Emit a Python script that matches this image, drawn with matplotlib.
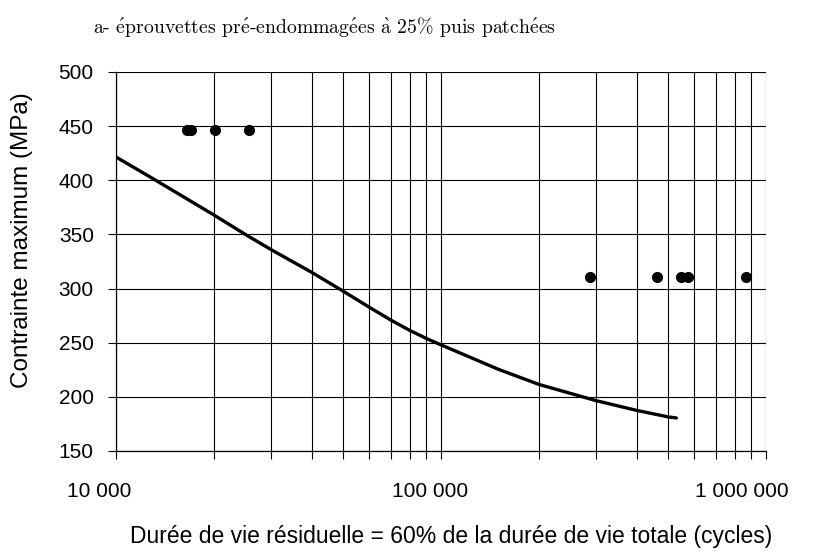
import matplotlib
matplotlib.use("Agg")
import matplotlib.pyplot as plt
from matplotlib.ticker import LogLocator, FixedLocator, NullFormatter
import matplotlib.transforms as mtrans

# ---- data ----
pts_high_x = [16580, 17050, 20210, 25720]
pts_high_y = [446, 446, 446, 446]
pts_low_x = [288000, 463000, 549000, 575000, 866000]
pts_low_y = [311, 311, 311, 311, 311]
curve_x = [10000, 13000, 20000, 25000, 30000, 40000, 50000, 60000, 70000,
           80000, 90000, 100000, 150000, 200000, 300000, 400000, 500000, 530000]
curve_y = [421.5, 401.5, 368, 350, 336, 315, 297.6, 283, 271,
           261.5, 254, 248, 225.5, 211.5, 196.5, 187.5, 181.5, 180.5]
y_ticks = [150, 200, 250, 300, 350, 400, 450, 500]
x_ticks = [10000, 100000, 1000000]
x_tick_labels = ["10 000", "100 000", "1 000 000"]

E = r"$\mathrm{\acute{e}}$"
A = r"$\mathrm{\grave{a}}$"
title = ("a- " + E + "prouvettes pr" + E + "-endommag" + E + "es " + A +
         " 25% puis patch" + E + "es")
xlabel = "Durée de vie résiduelle = 60% de la durée de vie totale (cycles)"
ylabel = "Contrainte maximum (MPa)"

plt.rcParams['font.family'] = ['Liberation Sans', 'DejaVu Sans']
plt.rcParams['mathtext.fontset'] = 'cm'

fig = plt.figure(figsize=(8.26, 5.59), dpi=100)
ax = fig.add_axes([116/826, 1-451/559, (766-116)/826, (451-72)/559])

ax.set_xscale('log')
ax.set_xlim(1e4, 1e6)
ax.set_ylim(150, 500)

ax.xaxis.set_major_locator(FixedLocator(x_ticks))
ax.xaxis.set_minor_locator(LogLocator(base=10, subs=range(2, 10)))
ax.xaxis.set_minor_formatter(NullFormatter())
ax.set_xticklabels(x_tick_labels)
ax.set_yticks(y_ticks)

ax.grid(True, which='both', axis='x', color='black', linewidth=0.8)
ax.grid(True, which='major', axis='y', color='black', linewidth=0.8)
ax.set_axisbelow(True)

for s in ['top', 'right']:
    ax.spines[s].set_visible(False)
for s in ['left', 'bottom']:
    ax.spines[s].set_linewidth(0.9)

ax.tick_params(axis='both', which='both', direction='out', length=6, width=0.8,
               labelsize=15)
ax.tick_params(axis='x', which='major', pad=16)
ax.tick_params(axis='y', pad=10)

for lbl, dx in zip(ax.get_xticklabels(), [-17, -11, -24]):
    off = mtrans.ScaledTranslation(dx/100, 0, fig.dpi_scale_trans)
    lbl.set_transform(lbl.get_transform() + off)

ax.plot(curve_x, curve_y, color='black', linewidth=2.4, solid_capstyle='round',
        solid_joinstyle='round')
ax.plot(pts_high_x, pts_high_y, 'o', color='black', markersize=7)
ax.plot(pts_low_x, pts_low_y, 'o', color='black', markersize=7)

fig.text(93/826, 1-27/559, title, ha='left', va='center', fontsize=14.2,
         family=['cmr10', 'DejaVu Serif'])
fig.text(451/826, 1-537/559, xlabel, ha='center', va='center', fontsize=16.5)
fig.text(22/826, 1-240/559, ylabel, ha='center', va='center', rotation=90,
         fontsize=17.5)

fig.savefig('out.png', dpi=100)
